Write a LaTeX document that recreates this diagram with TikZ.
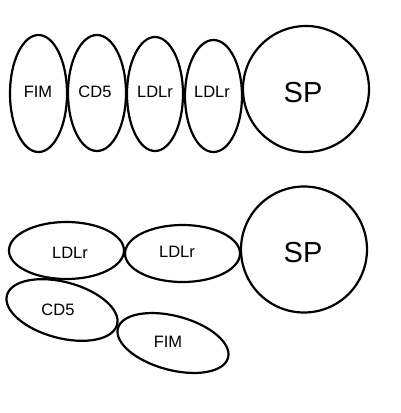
\documentclass[tikz,border=0pt]{standalone}
\usepackage{fontspec}
\setmainfont{Liberation Sans}
\usetikzlibrary{shapes.geometric}
\begin{document}
\begin{tikzpicture}[x=1bp,y=-1bp,
  blob/.style={draw, line width=2.2bp, ellipse, inner sep=0pt},
  ball/.style={draw, line width=2.2bp, circle, inner sep=0pt, minimum size=126bp},
  lab/.style={font=\fontsize{16.5bp}{19bp}\selectfont, inner sep=0pt},
  biglab/.style={font=\fontsize{29bp}{34bp}\selectfont, inner sep=0pt}]
\useasboundingbox (0,0) rectangle (401,413);
% top row
\node[blob, minimum width=57bp, minimum height=117bp] (fimA) at (38.5,93.5) {};
\node[blob, minimum width=58bp, minimum height=116bp] (cd5A) at (97,93) {};
\node[blob, minimum width=56bp, minimum height=114bp] (ldlA) at (155,94) {};
\node[blob, minimum width=57bp, minimum height=112bp] (ldlB) at (213.5,96) {};
\node[ball] (spA) at (306,89) {};
\node[lab] (fimAt) at (38,92) {FIM};
\node[lab] (cd5At) at (95,92) {CD5};
\node[lab] (ldlAt) at (155,92) {LDLr};
\node[lab] (ldlBt) at (212,92) {LDLr};
\node[biglab] (spAt) at (303,93) {SP};
% bottom
\node[blob, minimum width=115bp, minimum height=57bp] (ldlC) at (66.5,250.5) {};
\node[blob, minimum width=115bp, minimum height=57bp] (ldlD) at (182.5,253.5) {};
\node[ball] (spB) at (304,249.5) {};
\node[blob, rotate=-15, minimum width=114bp, minimum height=56bp] (cd5B) at (62,310) {};
\node[blob, rotate=-15, minimum width=114bp, minimum height=54bp] (fimB) at (173,343) {};
\node[lab] (ldlCt) at (70,253) {LDLr};
\node[lab] (ldlDt) at (177,252) {LDLr};
\node[biglab] (spBt) at (303,253) {SP};
\node[lab] (cd5Bt) at (58,310) {CD5};
\node[lab] (fimBt) at (168,342) {FIM};
\end{tikzpicture}
\end{document}
